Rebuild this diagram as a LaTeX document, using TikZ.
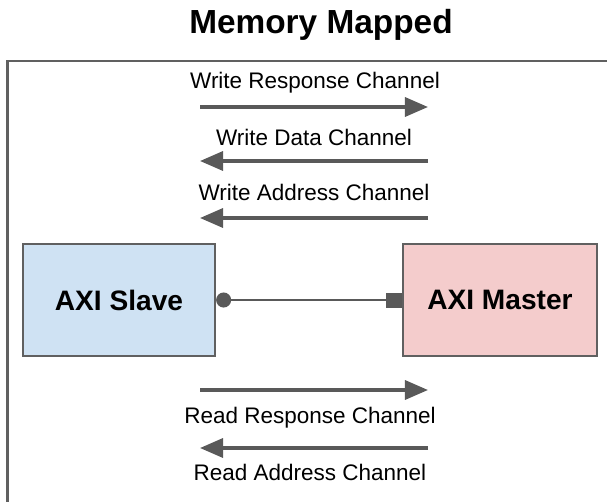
\documentclass[tikz,border=0pt]{standalone}
\usepackage{fontspec}
\setmainfont{Liberation Sans}
\usetikzlibrary{arrows.meta}
\definecolor{slavefill}{HTML}{CFE2F3}
\definecolor{masterfill}{HTML}{F4CCCC}
\definecolor{edgegray}{HTML}{606060}
\definecolor{arrowgray}{HTML}{595959}

\begin{document}
\begin{tikzpicture}[font=\fontsize{12.8}{15}\selectfont,
    chan/.style={draw=arrowgray, line width=1.9pt, -{Triangle[length=0.46cm,width=0.38cm]}},
    block/.style={draw=edgegray, line width=1.3pt, minimum width=3.84cm, minimum height=2.24cm, font=\fontsize{16}{19}\selectfont\bfseries},
    lbl/.style={anchor=base}]
    \useasboundingbox (0,0) rectangle (12.14,-10.04);
    \node[font=\fontsize{19}{23}\selectfont\bfseries, anchor=base] (title) at (6.42,-0.66) {Memory Mapped};
    \draw[edgegray, line width=1.3pt] (12.4,-1.22) -- (0.15,-1.22) -- (0.15,-10.4);

    % write channels
    \node[lbl] (wrresp) at (6.3,-1.76) {Write Response Channel};
    \coordinate (wrresp-a) at (4.0,-2.14);
    \coordinate (wrresp-b) at (8.56,-2.14);
    \draw[chan] (wrresp-a) -- (wrresp-b);

    \node[lbl] (wrdata) at (6.28,-2.9) {Write Data Channel};
    \coordinate (wrdata-a) at (8.56,-3.22);
    \coordinate (wrdata-b) at (4.0,-3.22);
    \draw[chan] (wrdata-a) -- (wrdata-b);

    \node[lbl] (wraddr) at (6.28,-4.0) {Write Address Channel};
    \coordinate (wraddr-a) at (8.56,-4.36);
    \coordinate (wraddr-b) at (4.0,-4.36);
    \draw[chan] (wraddr-a) -- (wraddr-b);

    % blocks
    \node[block, fill=slavefill] (slave) at (2.38,-6.0) {AXI Slave};
    \node[block, fill=masterfill, minimum width=3.88cm] (master) at (10.0,-6.0) {AXI Master};
    \draw[arrowgray, line width=1.7pt, {Circle[length=0.3cm]}-{Square[length=0.32cm,width=0.3cm]}] (slave.east) -- (master.west);

    % read channels
    \coordinate (rdresp-a) at (4.0,-7.8);
    \coordinate (rdresp-b) at (8.56,-7.8);
    \draw[chan] (rdresp-a) -- (rdresp-b);
    \node[lbl] (rdresp) at (6.2,-8.46) {Read Response Channel};

    \coordinate (rdaddr-a) at (8.56,-8.96);
    \coordinate (rdaddr-b) at (4.0,-8.96);
    \draw[chan] (rdaddr-a) -- (rdaddr-b);
    \node[lbl] (rdaddr) at (6.2,-9.6) {Read Address Channel};
\end{tikzpicture}
\end{document}
